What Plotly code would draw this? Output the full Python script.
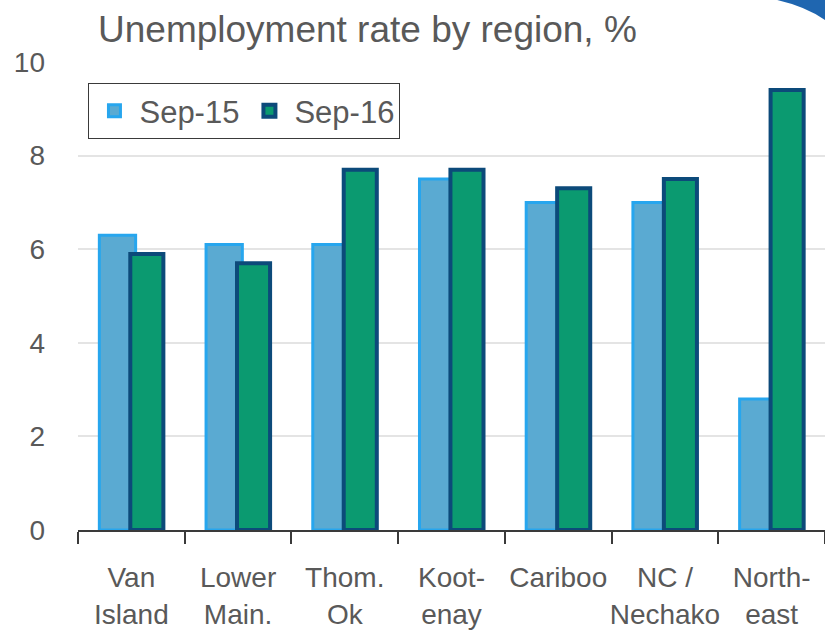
import plotly.graph_objects as go

# Regional unemployment rates, September 2015 vs September 2016
regions = ["Van<br>Island", "Lower<br>Main.", "Thom.<br>Ok", "Koot-<br>enay",
           "Cariboo", "NC /<br>Nechako", "North-<br>east"]
sep15 = [6.3, 6.1, 6.1, 7.5, 7.0, 7.0, 2.8]
sep16 = [5.9, 5.7, 7.7, 7.7, 7.3, 7.5, 9.4]
y_ticks = [0, 2, 4, 6, 8, 10]

FONT = "Liberation Sans, Arial, sans-serif"
GREY = "#595959"

fig = go.Figure()
fig.add_trace(go.Bar(
    x=regions, y=sep15, name="Sep-15",
    width=0.34, offset=-0.30,
    marker=dict(color="#5aaad2", line=dict(color="#27a6ee", width=3)),
))
fig.add_trace(go.Bar(
    x=regions, y=sep16, name="Sep-16",
    width=0.31, offset=-0.01,
    marker=dict(color="#0b9a70", line=dict(color="#0c4a7a", width=4)),
))

fig.update_layout(
    width=825, height=636,
    margin=dict(l=78, r=0, t=62, b=106),
    paper_bgcolor="white", plot_bgcolor="white",
    barmode="overlay",
    font=dict(family=FONT, color=GREY, size=28),
    showlegend=True,
    legend=dict(
        x=0.014, y=0.955, xanchor="left", yanchor="top",
        orientation="h", bgcolor="white",
        bordercolor="#3a3a3a", borderwidth=1,
        font=dict(family=FONT, size=31, color=GREY),
        itemwidth=40, tracegroupgap=0,
    ),
    xaxis=dict(
        type="category", range=[-0.5, 6.5],
        showline=True, linecolor="#3a3a3a", linewidth=1.5,
        ticks="outside", tickson="boundaries", ticklen=12,
        tickcolor="#3a3a3a", tickwidth=1.5, tickangle=0,
        tickfont=dict(family=FONT, size=28, color=GREY),
        ticklabelstandoff=22,
        showgrid=False,
    ),
    yaxis=dict(
        range=[0, 10], tickvals=y_ticks,
        showgrid=True, gridcolor="#e4e4e4", gridwidth=1.5,
        zeroline=False, showline=False, ticks="",
        tickfont=dict(family=FONT, size=28, color=GREY),
        ticklabelstandoff=32,
    ),
)

fig.add_annotation(
    text="Unemployment rate by region, %",
    xref="paper", yref="paper", x=0.024, y=1.0, yshift=33,
    xanchor="left", yanchor="middle", showarrow=False,
    font=dict(family=FONT, size=37, color=GREY),
)

# Blue corner ribbon, top right
fig.add_shape(
    type="path", xref="paper", yref="paper", layer="above",
    path="M 0.936 1.1325 Q 0.975 1.118 1.0 1.0897 L 1.0 1.1325 Z",
    fillcolor="#1f66b0", line=dict(width=0),
)

fig.write_html("out.html")
